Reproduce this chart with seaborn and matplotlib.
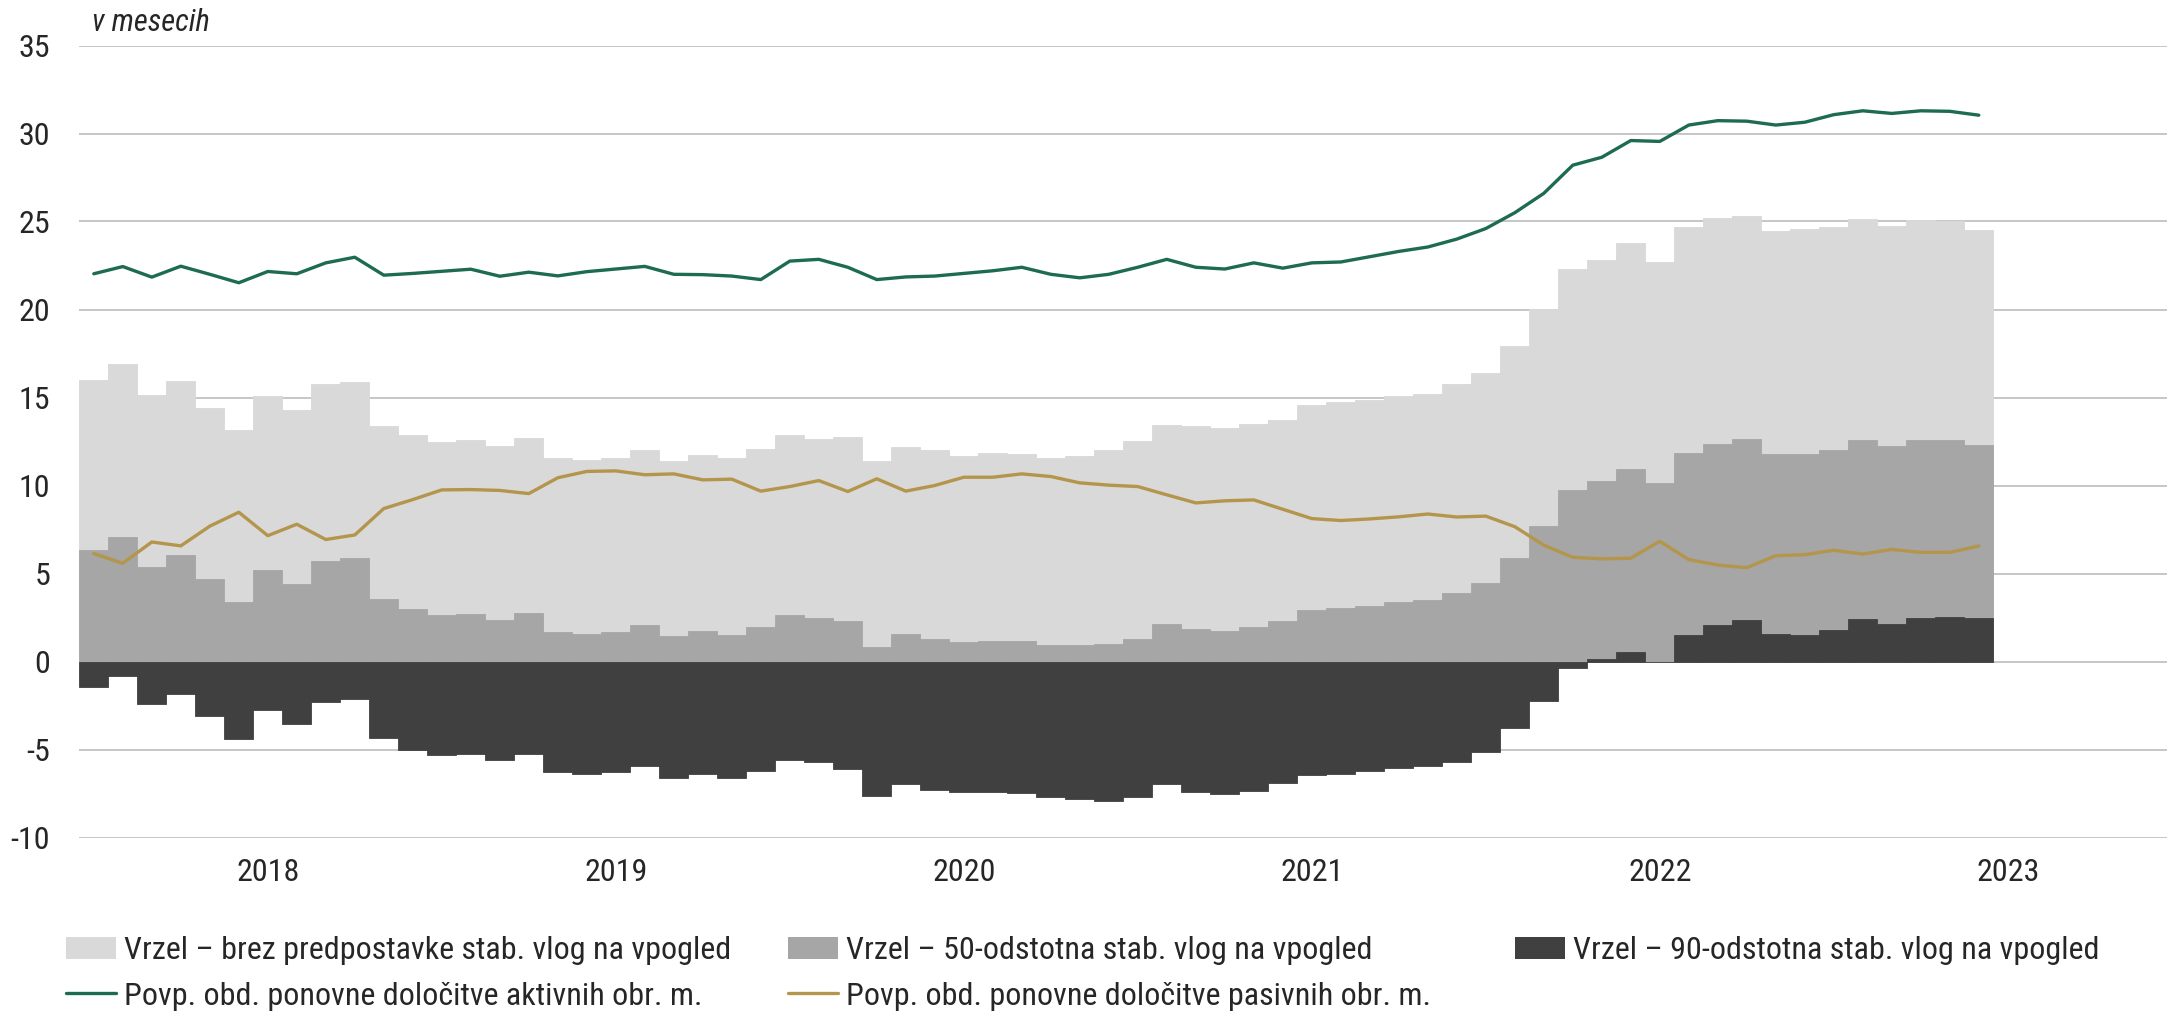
import numpy as np
import pandas as pd
import matplotlib
matplotlib.use("Agg")
import matplotlib.pyplot as plt
import seaborn as sns
from matplotlib import font_manager
from matplotlib.patches import Patch
from matplotlib.lines import Line2D

# ---------------- data (monthly, Jul 2017 - Dec 2022) ----------------
gap_none = [15.98, 16.93, 15.12, 15.96, 14.38, 13.15, 15.09, 14.31, 15.77, 15.88,
            13.36, 12.88, 12.45, 12.56, 12.22, 12.68, 11.56, 11.44, 11.56, 11.99,
            11.42, 11.76, 11.57, 12.07, 12.87, 12.66, 12.77, 11.37, 12.20, 11.99,
            11.69, 11.82, 11.78, 11.57, 11.69, 12.01, 12.52, 13.43, 13.40, 13.24,
            13.47, 13.74, 14.57, 14.72, 14.86, 15.07, 15.20, 15.78, 16.39, 17.92,
            20.01, 22.30, 22.83, 23.77, 22.71, 24.70, 25.20, 25.30, 24.45, 24.55,
            24.70, 25.17, 24.77, 25.08, 25.02, 24.49]
gap_50 = [6.32, 7.08, 5.39, 6.07, 4.71, 3.40, 5.20, 4.40, 5.73, 5.90,
          3.53, 2.96, 2.62, 2.69, 2.35, 2.73, 1.67, 1.54, 1.68, 2.05,
          1.46, 1.71, 1.48, 1.94, 2.64, 2.45, 2.30, 0.82, 1.57, 1.29,
          1.10, 1.18, 1.14, 0.91, 0.95, 0.97, 1.29, 2.13, 1.86, 1.71,
          1.94, 2.31, 2.92, 3.02, 3.17, 3.38, 3.51, 3.89, 4.46, 5.89,
          7.71, 9.76, 10.28, 10.92, 10.14, 11.83, 12.34, 12.62, 11.78, 11.81,
          12.02, 12.58, 12.24, 12.58, 12.58, 12.28]
gap_90 = [-1.44, -0.85, -2.43, -1.84, -3.09, -4.40, -2.73, -3.55, -2.31, -2.11,
          -4.33, -5.01, -5.29, -5.26, -5.58, -5.28, -6.30, -6.41, -6.25, -5.92,
          -6.60, -6.38, -6.64, -6.22, -5.62, -5.73, -6.13, -7.65, -6.94, -7.32,
          -7.42, -7.42, -7.46, -7.69, -7.80, -7.91, -7.72, -6.98, -7.42, -7.53,
          -7.38, -6.93, -6.45, -6.41, -6.24, -6.05, -5.94, -5.69, -5.14, -3.78,
          -2.22, -0.38, 0.12, 0.56, 0.00, 1.50, 2.06, 2.37, 1.56, 1.50,
          1.81, 2.41, 2.14, 2.50, 2.54, 2.46]
avg_assets = [22.03, 22.44, 21.84, 22.46, 22.00, 21.52, 22.16, 22.03, 22.65, 22.97,
              21.95, 22.05, 22.17, 22.29, 21.89, 22.12, 21.91, 22.15, 22.30, 22.45,
              22.00, 21.98, 21.90, 21.70, 22.75, 22.85, 22.40, 21.70, 21.85, 21.90,
              22.05, 22.20, 22.40, 22.00, 21.80, 22.00, 22.40, 22.85, 22.40, 22.30,
              22.65, 22.35, 22.65, 22.70, 23.00, 23.30, 23.55, 24.00, 24.60, 25.50,
              26.60, 28.20, 28.65, 29.60, 29.55, 30.48, 30.73, 30.70, 30.48, 30.64,
              31.07, 31.29, 31.14, 31.29, 31.26, 31.04]
avg_liab = [6.13, 5.58, 6.79, 6.57, 7.69, 8.48, 7.15, 7.80, 6.93, 7.19,
            8.69, 9.20, 9.75, 9.77, 9.72, 9.54, 10.44, 10.80, 10.83, 10.61,
            10.66, 10.32, 10.36, 9.68, 9.94, 10.28, 9.66, 10.38, 9.68, 10.00,
            10.47, 10.47, 10.66, 10.51, 10.15, 10.02, 9.94, 9.47, 9.01, 9.13,
            9.18, 8.65, 8.12, 8.01, 8.10, 8.22, 8.38, 8.21, 8.26, 7.66,
            6.61, 5.92, 5.83, 5.87, 6.83, 5.79, 5.48, 5.33, 6.01, 6.07,
            6.32, 6.10, 6.37, 6.20, 6.20, 6.56]
months = pd.date_range("2017-07-01", periods=len(gap_none), freq="MS")
year_labels = ["2018", "2019", "2020", "2021", "2022", "2023"]
y_ticks = [-10, -5, 0, 5, 10, 15, 20, 25, 30, 35]
legend_labels = ["Vrzel \u2013 brez predpostavke stab. vlog na vpogled",
                 "Vrzel \u2013 50-odstotna stab. vlog na vpogled",
                 "Vrzel \u2013 90-odstotna stab. vlog na vpogled",
                 "Povp. obd. ponovne določitve aktivnih obr. m.",
                 "Povp. obd. ponovne določitve pasivnih obr. m."]
unit_label = "v mesecih"

# ---------------- style ----------------
C_LIGHT = "#D9D9D9"
C_MID = "#A6A6A6"
C_DARK = "#404040"
C_GREEN = "#1D6B51"
C_GOLD = "#B4954C"
C_GRID = "#C6C6C6"

sns.set_theme(style="white")

names = {f.name for f in font_manager.fontManager.ttflist}
fam = None
for cand in ["Liberation Sans Narrow", "Arial Narrow", "Roboto Condensed"]:
    if cand in names:
        fam = cand
        break
narrow_found = fam is not None
if fam is None:
    fam = "Liberation Sans"
plt.rcParams["font.family"] = [fam, "DejaVu Sans"]
FS = 23 if narrow_found else 20.5

df = pd.DataFrame({"idx": np.arange(len(months)), "month": months,
                   "none": gap_none, "s50": gap_50, "s90": gap_90,
                   "assets": avg_assets, "liab": avg_liab})

W, H = 2169, 1016
fig = plt.figure(figsize=(W / 100, H / 100), dpi=100)
ax_left, ax_right = 79.3, 79.3 + 72 * 29.0
ax_top, ax_bot = 45.5, 837.5
ax = fig.add_axes([ax_left / W, 1 - ax_bot / H, (ax_right - ax_left) / W, (ax_bot - ax_top) / H])

for col, c in [("none", C_LIGHT), ("s50", C_MID), ("s90", C_DARK)]:
    sns.barplot(data=df, x="idx", y=col, color=c, saturation=1, width=1.0,
                edgecolor=c, linewidth=0.6, ax=ax, errorbar=None)
sns.lineplot(data=df, x="idx", y="assets", color=C_GREEN, linewidth=2.4, ax=ax)
sns.lineplot(data=df, x="idx", y="liab", color=C_GOLD, linewidth=2.4, ax=ax)

ax.set_xlim(-0.5, 71.5)
ax.set_ylim(-10, 35)
ax.set_yticks(y_ticks)
ax.set_yticklabels([str(v) for v in y_ticks], fontsize=FS)
month_list = list(df["month"])
tick_pos = []
for y in year_labels:
    ts = pd.Timestamp(f"{y}-01-01")
    if ts in month_list:
        tick_pos.append(month_list.index(ts))
    else:
        tick_pos.append(len(month_list) + 12 * (int(y) - 2023))
ax.set_xticks(tick_pos)
ax.set_xticklabels(year_labels, fontsize=FS)
ax.tick_params(axis="y", length=0, pad=21)
ax.tick_params(axis="x", length=0, pad=15)
ax.set_xlabel("")
ax.set_ylabel("")
ax.set_axisbelow(True)
ax.yaxis.grid(True, color=C_GRID, linewidth=1.4)
ax.xaxis.grid(False)
for s in ax.spines.values():
    s.set_visible(False)

fig.text(92 / W, 1 - 31 / H, unit_label, fontsize=FS - 1, style="italic",
         ha="left", va="baseline")

# ---------------- legend ----------------
h_light = Patch(facecolor=C_LIGHT, edgecolor="none")
h_mid = Patch(facecolor=C_MID, edgecolor="none")
h_dark = Patch(facecolor=C_DARK, edgecolor="none")
h_green = Line2D([], [], color=C_GREEN, linewidth=2.4)
h_gold = Line2D([], [], color=C_GOLD, linewidth=2.4)

cols = [([h_light, h_green], [legend_labels[0], legend_labels[3]], 66),
        ([h_mid, h_gold], [legend_labels[1], legend_labels[4]], 788),
        ([h_dark], [legend_labels[2]], 1515)]
for hs, ls, x0 in cols:
    fig.legend(hs, ls, loc="upper left", bbox_to_anchor=(x0 / W, 1 - 936 / H),
               frameon=False, fontsize=FS, handlelength=1.56 * 23 / FS, handleheight=0.7 * 23 / FS,
               handletextpad=0.25, labelspacing=0.52, borderpad=0, borderaxespad=0)

fig.savefig("out.png", dpi=100)
